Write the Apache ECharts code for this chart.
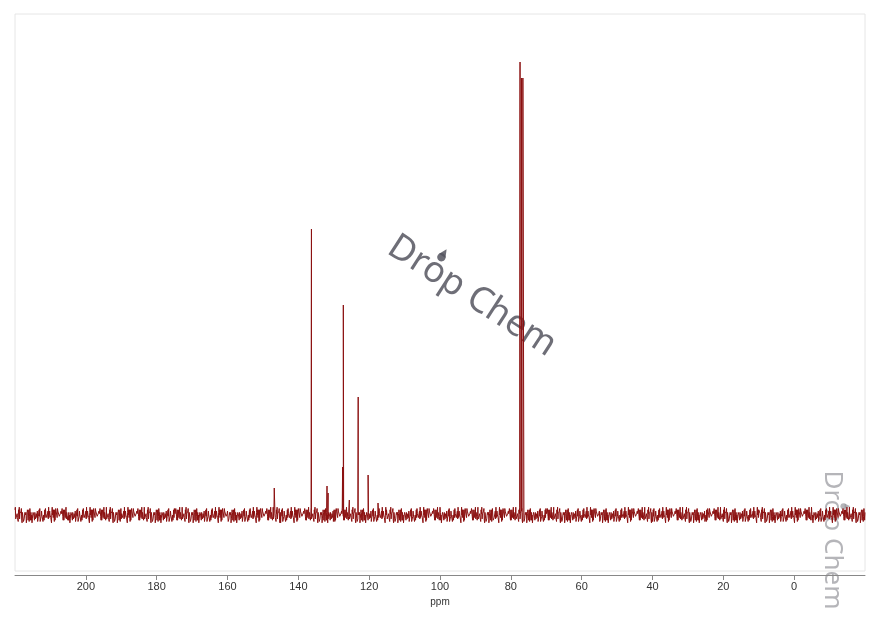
<!DOCTYPE html>
<html><head><meta charset="utf-8">
<script src="https://cdn.jsdelivr.net/npm/echarts@6/dist/echarts.min.js"></script>
<style>html,body{margin:0;padding:0;background:#fff}#c{width:880px;height:621px}</style>
</head><body><div id="c"></div>
<script>
// Peaks: [ppm, height above baseline]
const peaks = [[146.8,27],[136.3,286],[131.9,29],[131.6,22],[127.5,48],[127.3,210],[125.6,15],[123.1,118],[120.3,40],[117.5,12],[77.4,453],[77.0,437],[76.6,437]];
const xTicks = [0,20,40,60,80,100,120,140,160,180,200];
// baseline noise pattern (hand-typed)
const noise = [2,-3,4,-1,-5,3,1,-4,6,-2,0,-6,3,5,-3,-1,4,-5,2,1,-2,5,-4,0,3,-6,2,4,-1,-3,6,-2,-4,1,3,-5,0,2,-3,5,-1,-4,4,2,-6,1,3,-2,0,5,-3,-5,2,4,-1,1,-4,6,-2,-3,3,0,-5,2,5,-1,-4,1,3,-6,4,-2,0,2,-3,5,-5,1,-1,3,-4,6,-2,0,-3,4,2,-5,1,-1,3,-6,5,-2,0,4,-3,-1,2,-4,6,1,-5,3,-2,0,4,-3,2,-6,5,-1,1,-4,3,0,-2,6,-5,2,-1,4,-3,1,-4,5,0,-2,3,-6,2,4,-1,-3,5,-2,0,1,-5,4,-3,6,-1,-4,2,0,3,-5,1,-2];
const data = [];
const step = 0.1;
for (let i = 0; i <= 2400; i++) {
  const x = -20 + i*step;
  data.push([x, 1.3*noise[(i*7 + Math.floor(i/150)) % noise.length]]);
}
for (const p of peaks) data.push([p[0], p[1]]);
data.sort((a,b)=>a[0]-b[0]);
const chart = echarts.init(document.getElementById('c'));
const wm = (x,y,rot,size,color)=>{
  const s = size/34, dx = -size*1.3, dy = -size*0.5;
  return {type:'group',x:x,y:y,rotation:rot,children:[
  {type:'text',style:{text:'Drop Chem',x:0,y:0,align:'center',verticalAlign:'middle',font:size+'px "Noto Sans", sans-serif',fill:color}},
  {type:'circle',shape:{cx:dx,cy:dy+2*s,r:4*s},style:{fill:color}},
  {type:'polygon',shape:{points:[[dx,dy-7*s],[dx+3.6*s,dy+0.5*s],[dx-3.6*s,dy+0.5*s]]},style:{fill:color}}
]};};
chart.setOption({
  animation:false,
  grid:{left:15,right:15,top:14,bottom:50,show:true,borderColor:'#e6e6e6',borderWidth:1},
  xAxis:{type:'value',min:-20,max:220,interval:20,inverse:true,name:'ppm',nameLocation:'middle',nameGap:18,offset:4,
    nameTextStyle:{fontSize:10,color:'#333'},
    axisLine:{onZero:false,lineStyle:{color:'#888'}},axisTick:{lineStyle:{color:'#888'},length:5},
    axisLabel:{fontSize:11,color:'#333',showMinLabel:false,showMaxLabel:false,margin:6},splitLine:{show:false}},
  yAxis:{type:'value',min:-56,max:501,show:false,splitLine:{show:false}},
  series:[{type:'line',data:data,symbol:'none',sampling:'none',lineStyle:{color:'#8b1010',width:1},itemStyle:{color:'#8b1010'}}],
  graphic:[wm(472,296,-33*Math.PI/180,36,'rgba(85,85,95,0.85)'), wm(832,540,-Math.PI/2,26,'rgba(150,150,155,0.7)')]
});
</script></body></html>
